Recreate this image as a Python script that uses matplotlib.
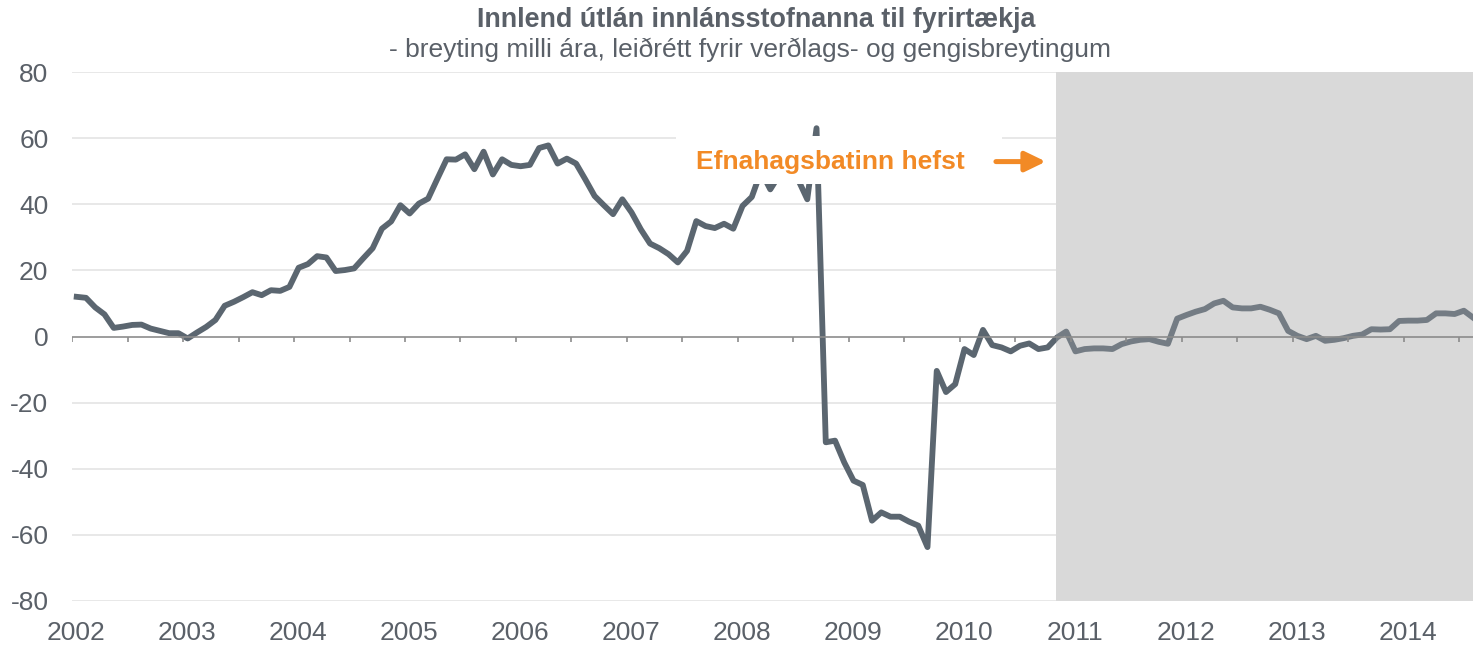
import matplotlib
matplotlib.use('Agg')
import matplotlib.pyplot as plt
from matplotlib.patches import Rectangle
import numpy as np

# monthly values, jan 2002 - aug 2014
start_year = 2002
values = [
	12.0, 11.7, 8.8, 6.7, 2.6, 3.0, 3.5, 3.6, 2.4, 1.7, 1.0, 1.0,
	-0.6, 1.2, 2.9, 5.0, 9.3, 10.5, 11.9, 13.4, 12.5, 14.0, 13.8, 15.0,
	20.8, 21.9, 24.3, 23.9, 19.8, 20.1, 20.6, 23.7, 26.7, 32.6, 34.8, 39.7,
	37.2, 40.2, 41.7, 47.7, 53.6, 53.5, 55.1, 50.6, 55.9, 49.0, 53.6, 51.9,
	51.5, 51.9, 57.0, 57.8, 52.3, 53.8, 52.3, 47.5, 42.5, 39.7, 37.0, 41.5,
	37.5, 32.4, 28.1, 26.7, 24.9, 22.4, 25.9, 34.9, 33.4, 32.8, 34.1, 32.6,
	39.5, 42.2, 50.0, 44.5, 49.0, 50.0, 47.5, 41.5, 63.0, -32.0, -31.5, -38.1,
	-43.6, -44.9, -55.7, -53.2, -54.5, -54.5, -56.0, -57.2, -63.7, -10.4, -16.8, -14.4,
	-3.8, -5.6, 2.0, -2.6, -3.3, -4.5, -2.8, -2.1, -3.8, -3.3, -0.3, 1.5,
	-4.5, -3.8, -3.6, -3.6, -3.8, -2.3, -1.5, -1.0, -0.8, -1.6, -2.2, 5.4,
	6.5, 7.5, 8.3, 10.0, 10.8, 8.8, 8.5, 8.5, 9.0, 8.1, 7.0, 1.7,
	0.2, -0.8, 0.2, -1.3, -1.0, -0.5, 0.2, 0.6, 2.2, 2.1, 2.2, 4.7,
	4.8, 4.8, 5.0, 7.0, 7.0, 6.8, 7.8, 5.7,
]
year_labels = [str(y) for y in range(2002, 2015)]
y_ticks = [-80, -60, -40, -20, 0, 20, 40, 60, 80]

title = 'Innlend útlán innlánsstofnanna til fyrirtækja'
subtitle = '- breyting milli ára, leiðrétt fyrir verðlags- og gengisbreytingum'
note = 'Efnahagsbatinn hefst'
shade_start = 106.4   # months after jan 2002

LINE = '#5b6670'
TEXT = '#5a6068'
ORANGE = '#f28a26'
SHADE = '#d9d9d9'

plt.rcParams['font.family'] = ['Liberation Sans', 'DejaVu Sans']

fig = plt.figure(figsize=(14.73, 6.45), dpi=100)
ax = fig.add_axes([72.1 / 1473, 44 / 645, 1401 / 1473, 529 / 645])

x = np.arange(len(values)) + 0.5
x_max = 151.5

# gridlines
for v in y_ticks:
	if v != 0:
		ax.axhline(v, color='#e4e4e4', lw=1.2, zorder=0)

# shaded area (recovery period)
ax.add_patch(Rectangle((shade_start, -80), x_max - shade_start, 160, facecolor=SHADE, edgecolor='none', zorder=1))

ax.plot(x, values, color=LINE, lw=4.2, solid_joinstyle='round', zorder=3)

# light veil so the line looks faded inside the shade
ax.add_patch(Rectangle((shade_start, -80), x_max - shade_start, 160, facecolor=SHADE, alpha=0.2, edgecolor='none', zorder=4))

# zero axis with half-year ticks
ax.axhline(0, color='#8c8c8c', lw=1.2, zorder=5)
ax.vlines(np.arange(0, x_max, 6), -1.6, 0, color='#8c8c8c', lw=1.2, zorder=5)

# annotation with white box behind it
ax.add_patch(Rectangle((65.3, 46.1), 35.3, 14.5, facecolor='white', edgecolor='none', zorder=6))
ax.text(82.0, 52.8, note, color=ORANGE, fontsize=19, fontweight='bold', ha='center', va='center', zorder=7)
ax.annotate('', xy=(105.3, 52.9), xytext=(99.9, 52.9),
	arrowprops=dict(arrowstyle='-|>,head_length=0.62,head_width=0.3', color=ORANGE, lw=3.6,
		shrinkA=0, shrinkB=0, mutation_scale=20), zorder=7)

ax.set_xlim(0, x_max)
ax.set_ylim(-80, 80)
ax.set_yticks(y_ticks)
ax.set_yticklabels([str(v) for v in y_ticks])
ax.set_xticks(np.arange(len(year_labels)) * 12 + 0.4)
ax.set_xticklabels(year_labels)
ax.tick_params(axis='both', length=0, labelsize=19, labelcolor=TEXT)
ax.tick_params(axis='x', pad=14.5)
ax.tick_params(axis='y', pad=17)
for s in ax.spines.values():
	s.set_visible(False)

fig.text(756 / 1473, 1 - 20 / 645, title, fontsize=19.4, fontweight='bold', color=TEXT, ha='center', va='center')
fig.text(750 / 1473, 1 - 50 / 645, subtitle, fontsize=19, color=TEXT, ha='center', va='center')

fig.savefig('out.png', dpi=100)
plt.close()
